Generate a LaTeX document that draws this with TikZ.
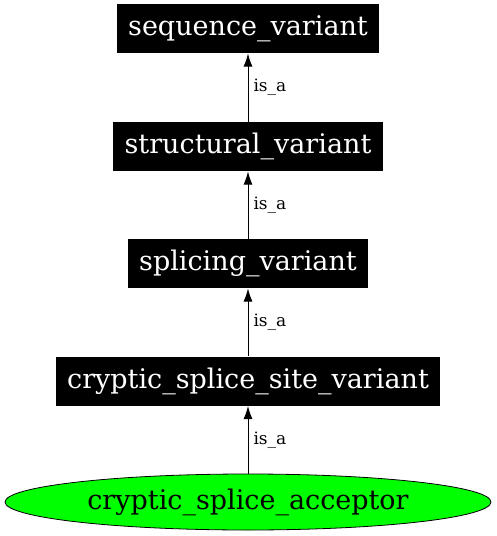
\documentclass[tikz,border=0pt]{standalone}
\usepackage{fontspec}
\setmainfont{DejaVu Serif}
\usetikzlibrary{arrows.meta,shapes.geometric}
\tikzset{
    > = {Latex[length=13pt,width=9pt]}
}
\definecolor{leafgreen}{RGB}{0,255,0}
\begin{document}
\begin{tikzpicture}[x=1pt, y=-1pt, line width=1pt]
        \tikzstyle{term}=[fill=black, text=white, font=\fontsize{27}{29}\selectfont, inner xsep=11.5pt, inner ysep=0pt, minimum height=49pt]
        \tikzstyle{leaf}=[ellipse, draw=black, line width=.8pt, fill=leafgreen, font=\fontsize{27}{29}\selectfont, minimum width=486pt, minimum height=56pt, inner sep=0pt]
        \tikzstyle{isa}=[font=\fontsize{17}{19}\selectfont, right, inner xsep=5pt]
        \useasboundingbox (0,0) rectangle (496,536);
        \node[term] (seqvar) at (248,28.5) {sequence\_variant};
        \node[term] (structvar) at (248,146.5) {structural\_variant};
        \node[term] (splicevar) at (248,263.5) {splicing\_variant};
        \node[term] (crypticsite) at (248,381) {cryptic\_splice\_site\_variant};
        \node[leaf] (crypticacc) at (248,502) {cryptic\_splice\_acceptor};
        \draw[->] (structvar) -- node[isa] {is\_a} (seqvar);
        \draw[->] (splicevar) -- node[isa] {is\_a} (structvar);
        \draw[->] (crypticsite) -- node[isa] {is\_a} (splicevar);
        \draw[->] (crypticacc) -- node[isa] {is\_a} (crypticsite);
    \end{tikzpicture}
\end{document}
